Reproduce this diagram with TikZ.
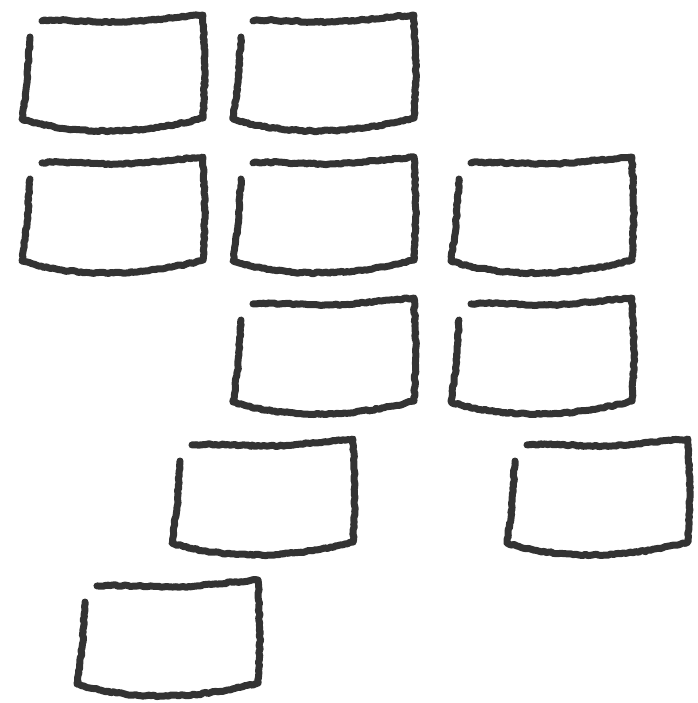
\documentclass[tikz,border=0pt]{standalone}
\usepackage{xcolor}
\usepackage{tikz}
\usetikzlibrary{decorations.pathmorphing}
\definecolor{inkgray}{HTML}{333333}

\begin{document}
\begin{tikzpicture}[
        x=1pt, y=-1pt,
        sketch/.style={draw=inkgray, line width=7pt, line cap=round, line join=round,
                       decorate, decoration={random steps, segment length=2.5pt, amplitude=0.8pt}},
        sketchbox/.pic={
            \draw[sketch] (12,24) -- (9,70) -- (4,106)
                .. controls (60,124) and (130,120) .. (185,105)
                -- (187,60) -- (185,2)
                .. controls (150,5) and (120,9) .. (100,9)
                .. controls (70,9) and (40,6) .. (24,8);
        },
    ]
    \useasboundingbox (0,0) rectangle (697,703);

    % Reihe 1
    \pic (b1) at (18,13) {sketchbox};
    \pic (b2) at (229,13) {sketchbox};

    % Reihe 2
    \pic (b3) at (18,155) {sketchbox};
    \pic (b4) at (229,155) {sketchbox};
    \pic (b5) at (447,155) {sketchbox};

    % Reihe 3
    \pic (b6) at (229,296) {sketchbox};
    \pic (b7) at (447,296) {sketchbox};

    % Reihe 4
    \pic (b8) at (168,437) {sketchbox};
    \pic (b9) at (503,437) {sketchbox};

    % Reihe 5
    \pic (b10) at (73,578) {sketchbox};
\end{tikzpicture}
\end{document}
